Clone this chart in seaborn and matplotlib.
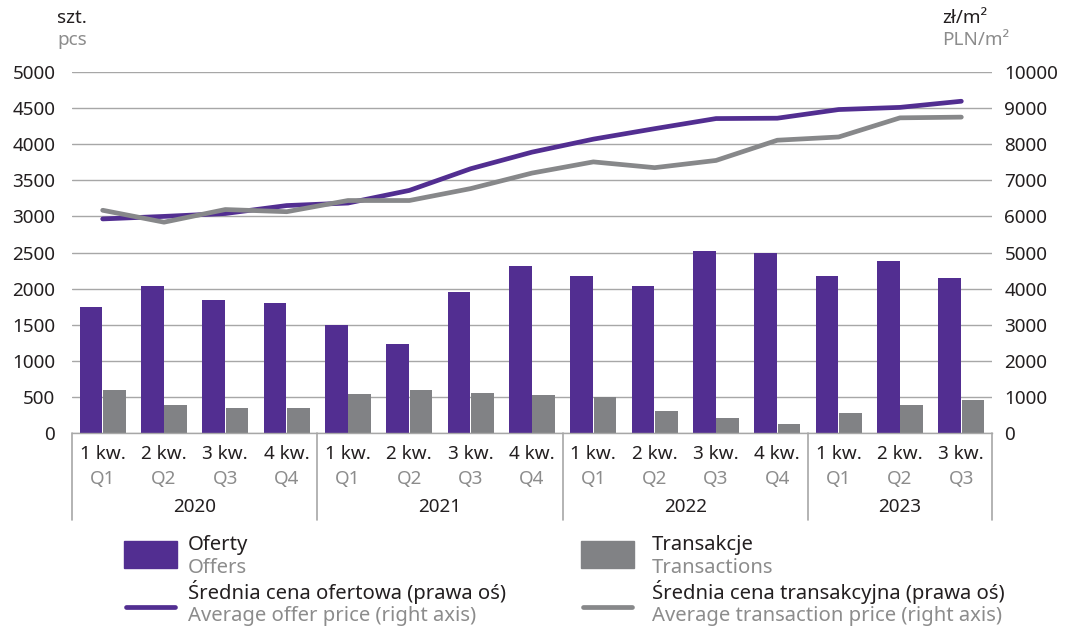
import numpy as np
import pandas as pd
import matplotlib
matplotlib.use("Agg")
import matplotlib.pyplot as plt
import seaborn as sns
from matplotlib.transforms import blended_transform_factory
from matplotlib.patches import Rectangle
from matplotlib.lines import Line2D

# --- data -------------------------------------------------------------
quarters_pl = ["1 kw.", "2 kw.", "3 kw.", "4 kw."] * 3 + ["1 kw.", "2 kw.", "3 kw."]
quarters_en = ["Q1", "Q2", "Q3", "Q4"] * 3 + ["Q1", "Q2", "Q3"]
years = ["2020", "2021", "2022", "2023"]
quarters_per_year = [4, 4, 4, 3]

offers = [1740, 2030, 1840, 1800, 1500, 1230, 1950, 2310,
          2170, 2030, 2520, 2500, 2170, 2380, 2140]
transactions = [590, 390, 350, 340, 545, 590, 560, 520,
                500, 310, 210, 130, 280, 390, 460]
offer_price = [5930, 6000, 6080, 6300, 6370, 6720, 7320, 7780,
               8140, 8430, 8710, 8720, 8960, 9020, 9190]
transaction_price = [6170, 5840, 6190, 6130, 6440, 6440, 6770, 7200,
                     7510, 7350, 7550, 8110, 8200, 8730, 8750]

left_ticks = list(range(0, 5001, 500))
right_ticks = list(range(0, 10001, 1000))

# --- style ------------------------------------------------------------
PURPLE = "#522e91"
GRAY_BAR = "#818285"
GRAY_LINE = "#87888a"
DARK = "#231f20"
LIGHT = "#8c8c8c"
GRID = "#a7a7a7"

sns.set_theme(style="white")
plt.rcParams["font.family"] = ["Noto Sans", "DejaVu Sans"]
FS = 13.6
FS_LEG = 14.6

cats = [f"{y}-{q}" for y, n in zip(years, quarters_per_year)
        for q in quarters_en[:n]]
df = pd.DataFrame({
    "cat": cats * 2,
    "series": ["Oferty"] * len(cats) + ["Transakcje"] * len(cats),
    "value": offers + transactions,
})

W, H = 1073, 628
fig = plt.figure(figsize=(W / 100, H / 100), dpi=100)
ax = fig.add_axes([72 / W, 1 - 433 / H, 920 / W, 361 / H])

sns.barplot(data=df, x="cat", y="value", hue="series", order=cats,
            hue_order=["Oferty", "Transakcje"], palette=[PURPLE, GRAY_BAR],
            width=0.77, gap=0.04, saturation=1, linewidth=0,
            legend=False, ax=ax)

ax.set_xlim(-0.5, len(cats) - 0.5)
ax.set_ylim(0, 5000)
ax.set_yticks(left_ticks)
ax.set_yticklabels([str(t) for t in left_ticks], fontsize=FS, color=DARK)
ax.grid(axis="y", color=GRID, lw=1)
ax.set_axisbelow(True)
ax.set_xticks([])
ax.set_xlabel("")
ax.set_ylabel("")
ax.tick_params(axis="y", length=0, pad=12)
for s in ["top", "left", "right"]:
    ax.spines[s].set_visible(False)
ax.spines["bottom"].set_color(GRID)
ax.spines["bottom"].set_linewidth(1)

ax2 = ax.twinx()
xs = np.arange(len(cats))
sns.lineplot(x=xs, y=offer_price, ax=ax2, color=PURPLE, lw=3.4,
             solid_capstyle="round", solid_joinstyle="round")
sns.lineplot(x=xs, y=transaction_price, ax=ax2, color=GRAY_LINE, lw=3.4,
             solid_capstyle="round", solid_joinstyle="round")
ax2.set_ylim(0, 10000)
ax2.set_yticks(right_ticks)
ax2.set_yticklabels([str(t) for t in right_ticks], fontsize=FS, color=DARK)
ax2.tick_params(axis="y", length=0, pad=9)
ax2.grid(False)
for s in ax2.spines.values():
    s.set_visible(False)

# category axis: quarter labels, year labels and separators
tr = blended_transform_factory(ax.transData, ax.transAxes)
for i, (pl, en) in enumerate(zip(quarters_pl, quarters_en)):
    ax.text(i, -0.057, pl, transform=tr, ha="center", va="center",
            fontsize=FS, color=DARK)
    ax.text(i, -0.128, en, transform=tr, ha="center", va="center",
            fontsize=FS, color=LIGHT)
start = 0
bounds = [-0.5]
for y, n in zip(years, quarters_per_year):
    ax.text(start + (n - 1) / 2, -0.205, y, transform=tr, ha="center",
            va="center", fontsize=FS, color=DARK)
    start += n
    bounds.append(start - 0.5)
for b in bounds:
    ax.plot([b, b], [0, -0.242], transform=tr, color=GRID, lw=1.2,
            clip_on=False)

# axis unit headers
fig.text(57 / W, 1 - 18 / H, "szt.", fontsize=FS, color=DARK, va="center")
fig.text(57 / W, 1 - 40 / H, "pcs", fontsize=FS, color=LIGHT, va="center")
fig.text(942 / W, 1 - 18 / H, "zł/m²", fontsize=FS, color=DARK, va="center")
fig.text(942 / W, 1 - 40 / H, "PLN/m²", fontsize=FS, color=LIGHT, va="center")

# legend
def fx(px):
    return px / W

def fy(py):
    return 1 - py / H

entries = [
    (124, 188, PURPLE, "Oferty", "Offers"),
    (581, 652, GRAY_BAR, "Transakcje", "Transactions"),
]
for x0, xt, col, pl, en in entries:
    fig.patches.append(Rectangle((fx(x0), fy(568)), 53 / W, 27 / H,
                                 transform=fig.transFigure, color=col))
    fig.text(fx(xt), fy(545), pl, fontsize=FS_LEG, color=DARK, va="center")
    fig.text(fx(xt), fy(568), en, fontsize=FS_LEG, color=LIGHT, va="center")

line_entries = [
    (124, 188, PURPLE, "Średnia cena ofertowa (prawa oś)",
     "Average offer price (right axis)"),
    (581, 652, GRAY_LINE, "Średnia cena transakcyjna (prawa oś)",
     "Average transaction price (right axis)"),
]
for x0, xt, col, pl, en in line_entries:
    fig.lines.append(Line2D([fx(x0 + 2), fx(x0 + 51)], [fy(607), fy(607)],
                            transform=fig.transFigure, color=col, lw=3.4,
                            solid_capstyle="round"))
    fig.text(fx(xt), fy(592), pl, fontsize=FS_LEG, color=DARK, va="center")
    fig.text(fx(xt), fy(616), en, fontsize=FS_LEG, color=LIGHT, va="center")

fig.savefig("out.png", dpi=100)
